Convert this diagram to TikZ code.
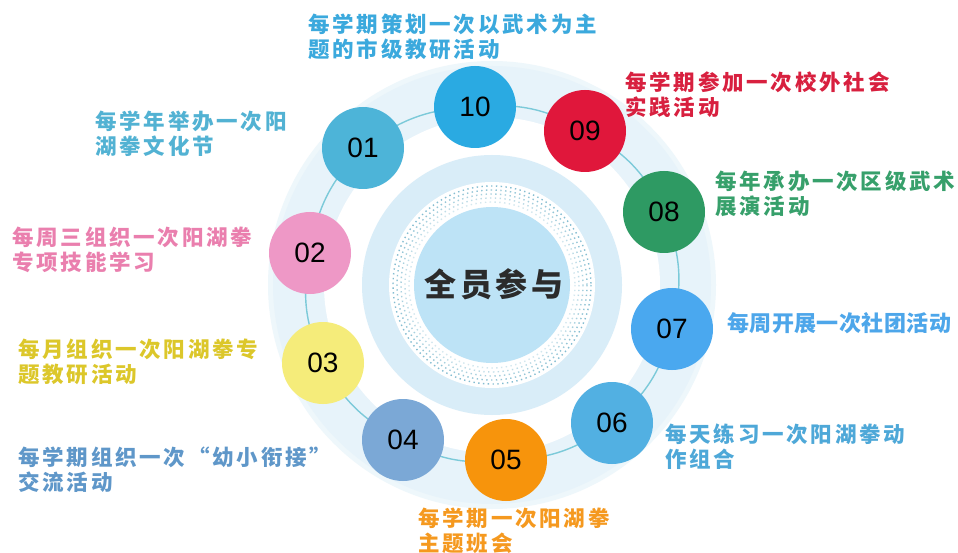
\documentclass[tikz,border=0pt]{standalone}
\usepackage{fontspec}
\setmainfont{Liberation Sans}
\newfontfamily\cjklab{Noto Sans CJK SC}[LetterSpace=13]
\newfontfamily\cjkone{Noto Sans CJK SC}[LetterSpace=2]
\newfontfamily\cjkctr{Noto Sans CJK SC}[LetterSpace=12]
\pgfdeclarelayer{bg}
\pgfdeclarelayer{trk}
\pgfsetlayers{bg,trk,main}
\definecolor{c10}{HTML}{2AAAE2}
\definecolor{c09}{HTML}{E0173B}
\definecolor{c08}{HTML}{2E9A63}
\definecolor{c07}{HTML}{4AA8EF}
\definecolor{c06}{HTML}{52B0E2}
\definecolor{c05}{HTML}{F7940C}
\definecolor{c04}{HTML}{7BA8D6}
\definecolor{c03}{HTML}{F5EC7A}
\definecolor{c02}{HTML}{EE98C6}
\definecolor{c01}{HTML}{4DB4D8}
\definecolor{l10}{HTML}{3BA9DD}
\definecolor{l09}{HTML}{D8203F}
\definecolor{l08}{HTML}{37A06B}
\definecolor{l07}{HTML}{4DA6EA}
\definecolor{l06}{HTML}{4EA8D8}
\definecolor{l05}{HTML}{F5991F}
\definecolor{l04}{HTML}{5F97C9}
\definecolor{l03}{HTML}{DCC72A}
\definecolor{l02}{HTML}{EA7FAE}
\definecolor{l01}{HTML}{52B2D3}
\definecolor{outerc}{HTML}{E7F3FA}
\definecolor{bandc}{HTML}{D9EDF8}
\definecolor{innerc}{HTML}{BDE3F6}
\definecolor{dotc}{HTML}{6FB2C9}
\definecolor{trackc}{HTML}{7CCAD9}
\definecolor{ctext}{HTML}{2B2B2B}
\begin{document}
\begin{tikzpicture}[x=1pt,y=-1pt,
  num/.style={circle,minimum size=82pt,inner sep=0pt,font=\fontsize{28}{28}\selectfont,text=black},
  lab/.style={anchor=north west,inner sep=0pt,align=left,font=\cjklab\bfseries\fontsize{21.5}{25}\selectfont},
  trackline/.style={draw=trackc,line width=1.4pt}]
\useasboundingbox (0,0) rectangle (958,553);
% background discs
\begin{pgfonlayer}{bg}
\fill[white] (0,0) rectangle (958,553);
\fill[outerc!70!white] (492,285) circle[radius=224];
\fill[outerc] (492,285) circle[radius=219];
\fill[white] (492,285) circle[radius=168];
\fill[bandc] (492,285) circle[radius=130];
\fill[white] (492,285) circle[radius=103];
\foreach \r/\o in {83/0.3,87/0.45,91/0.6,95/0.75,99/0.85}
  \draw[dotc,opacity=\o,line width=1.4pt,dash pattern=on 1.4pt off 3.4pt] (492,285) circle[radius=\r];
\fill[innerc] (492,285) circle[radius=78];
\end{pgfonlayer}
% numbered circles
\node[num,fill=c10] (n10) at (475,107) {10};
\node[num,fill=c09] (n09) at (585,131) {09};
\node[num,fill=c08] (n08) at (664,212) {08};
\node[num,fill=c07] (n07) at (672,329) {07};
\node[num,fill=c06] (n06) at (612,423) {06};
\node[num,fill=c05] (n05) at (506,460) {05};
\node[num,fill=c04] (n04) at (403,440) {04};
\node[num,fill=c03] (n03) at (323,363) {03};
\node[num,fill=c02] (n02) at (310,253) {02};
\node[num,fill=c01] (n01) at (363,148) {01};
% track
\begin{pgfonlayer}{trk}
\foreach \a/\b in {n10/n09,n09/n08,n08/n07,n07/n06,n06/n05,n05/n04,n04/n03,n03/n02,n02/n01,n01/n10}
  \draw[trackline] (\a.center) to[bend left=18] (\b.center);
\end{pgfonlayer}
% center text
\node[font=\cjkctr\bfseries\fontsize{32}{32}\selectfont,text=ctext,xshift=2pt] (ctr) at (492,284) {全员参与};
% labels
\node[lab,text=l10] (t10) at (308,14) {每学期策划一次以武术为主\\题的市级教研活动};
\node[lab,text=l09] (t09) at (625,72) {每学期参加一次校外社会\\实践活动};
\node[lab,text=l01] (t01) at (95,111) {每学年举办一次阳\\湖拳文化节};
\node[lab,text=l02] (t02) at (12,227) {每周三组织一次阳湖拳\\专项技能学习};
\node[lab,text=l08] (t08) at (715,171) {每年承办一次区级武术\\展演活动};
\node[anchor=north west,inner sep=0pt,font=\cjkone\bfseries\fontsize{22}{25}\selectfont,text=l07] (t07) at (727,312) {每周开展一次社团活动};
\node[lab,text=l03] (t03) at (18,339) {每月组织一次阳湖拳专\\题教研活动};
\node[lab,text=l04] (t04) at (18,447) {每学期组织一次“幼小衔接”\\交流活动};
\node[lab,text=l06] (t06) at (665,424) {每天练习一次阳湖拳动\\作组合};
\node[lab,text=l05] (t05) at (418,508) {每学期一次阳湖拳\\主题班会};
\end{tikzpicture}
\end{document}
